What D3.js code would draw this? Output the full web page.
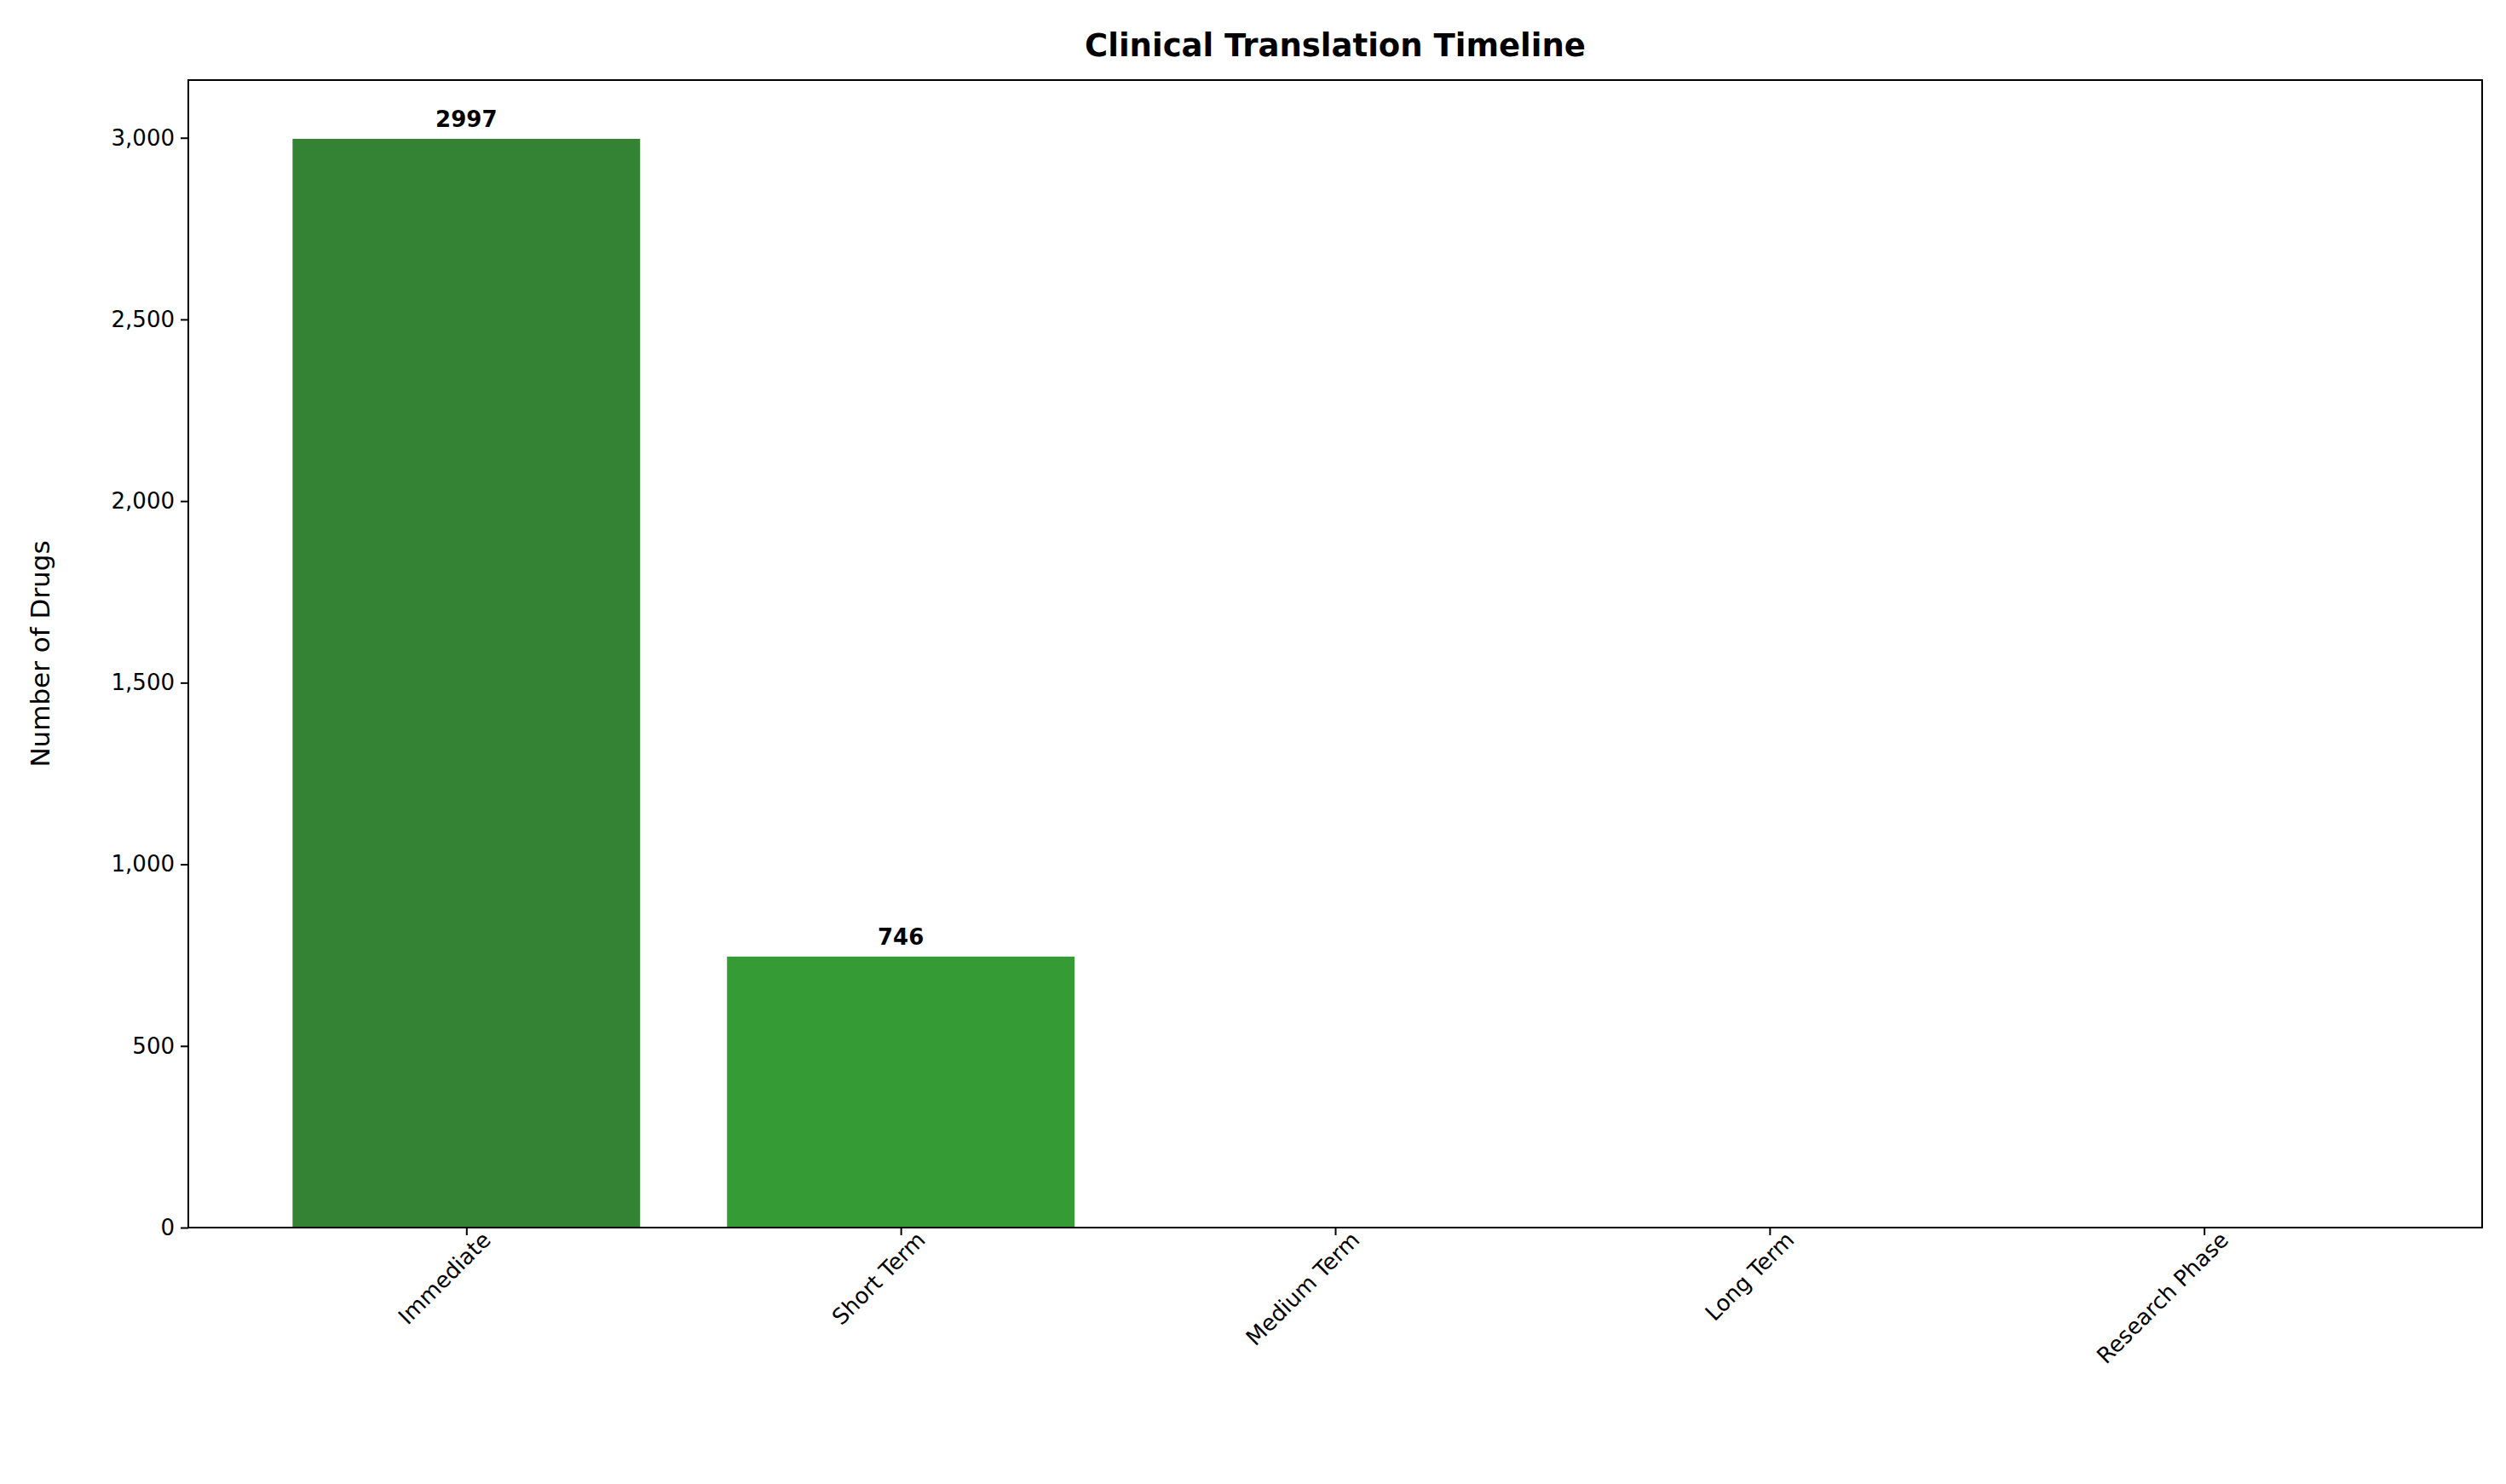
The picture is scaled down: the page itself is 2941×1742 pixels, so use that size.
<!DOCTYPE html>
<html><head><meta charset="utf-8">
<script src="https://cdn.jsdelivr.net/npm/d3@7"></script>
<style>body{margin:0;background:#fff;font-family:"DejaVu Sans",sans-serif;}</style>
</head><body>
<svg id="chart" width="2941" height="1742"></svg>
<script>
// data
const categories = ["Immediate", "Short Term", "Medium Term", "Long Term", "Research Phase"];
const counts = [2997, 746, 0, 0, 0];
const colors = ["#348234", "#359b35", "#359b35", "#359b35", "#359b35"];
const yTicks = [0, 500, 1000, 1500, 2000, 2500, 3000];

const svg = d3.select("#chart");
const plotLeft = 221, plotRight = 2913, plotTop = 94, plotBottom = 1441;

const x = d3.scaleLinear().domain([-0.64, categories.length - 1 + 0.64]).range([plotLeft, plotRight]);
const y = d3.scaleLinear().domain([0, 2997 * 1.054]).range([plotBottom, plotTop]);
const barW = x(0.8) - x(0);

svg.selectAll("rect.bar").data(counts).enter().append("rect")
  .attr("x", (d, i) => x(i) - barW / 2)
  .attr("y", d => y(d))
  .attr("width", barW)
  .attr("height", d => plotBottom - y(d))
  .attr("fill", (d, i) => colors[i]);

svg.selectAll("text.val").data(counts.map((v, i) => ({v, i})).filter(d => d.v > 0)).enter()
  .append("text")
  .attr("x", d => x(d.i))
  .attr("y", d => y(d.v) - 14)
  .attr("text-anchor", "middle")
  .attr("font-size", 26).attr("font-weight", "bold")
  .text(d => d.v);

// axes
const yAxis = svg.append("g").attr("transform", `translate(${plotLeft},0)`)
  .call(d3.axisLeft(y).tickValues(yTicks).tickSize(9).tickPadding(7));
const xAxis = svg.append("g").attr("transform", `translate(0,${plotBottom})`)
  .call(d3.axisBottom(x).tickValues(d3.range(categories.length)).tickFormat(i => categories[i]).tickSize(9));
[yAxis, xAxis].forEach(a => {
  a.select(".domain").remove();
  a.selectAll("line").attr("stroke", "#000").attr("stroke-width", 2);
  a.selectAll("text").attr("font-size", 26).attr("font-family", "DejaVu Sans").attr("fill", "#000");
});
xAxis.selectAll("text")
  .attr("text-anchor", "end").attr("dy", 0).attr("y", 0)
  .attr("transform", "translate(0,26) rotate(-45) translate(28,14)");

svg.append("rect").attr("x", plotLeft).attr("y", plotTop)
  .attr("width", plotRight - plotLeft).attr("height", plotBottom - plotTop)
  .attr("fill", "none").attr("stroke", "#000").attr("stroke-width", 2);

svg.append("text").attr("x", (plotLeft + plotRight) / 2).attr("y", 66)
  .attr("text-anchor", "middle").attr("font-size", 37).attr("font-weight", "bold")
  .text("Clinical Translation Timeline");

svg.append("text")
  .attr("transform", `translate(58,${(plotTop + plotBottom) / 2}) rotate(-90)`)
  .attr("text-anchor", "middle").attr("font-size", 31)
  .text("Number of Drugs");
</script>
</body></html>
